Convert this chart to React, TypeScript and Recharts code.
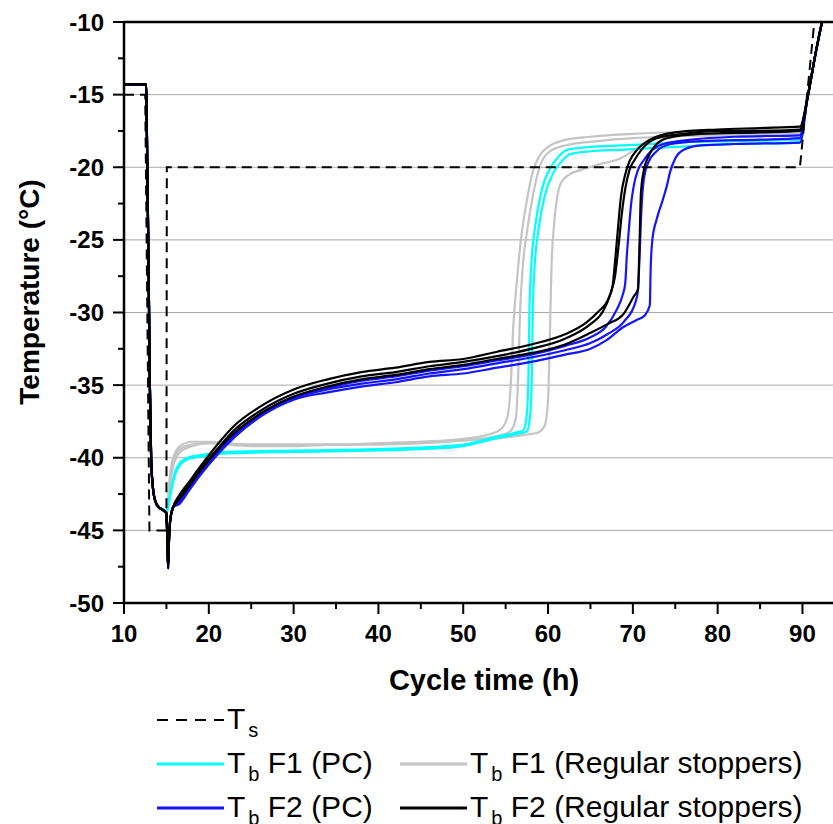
import React from 'react';
import { LineChart, Line, XAxis, YAxis, CartesianGrid, ReferenceLine } from 'recharts';

type Pt = [number, number];

// Shelf temperature set point (h, °C)
const shelfTs: Pt[] = [[10, -15], [12.5, -15], [13.0, -45], [15.0, -45], [15.05, -20], [89.7, -20], [91.4, -10]];

// Common hold + cool-down section of all product probes
const coolDown: Pt[] = [[10, -14.3], [12.6, -14.3], [12.75, -20], [12.9, -27], [13.05, -35], [13.2, -40], [13.4, -42], [13.7, -43], [14.1, -43.4], [14.6, -43.6], [15.0, -43.8]];

// F2 nucleation spike
const f2Spike: Pt[] = [[15.1, -45.5], [15.2, -47.6], [15.3, -45.8], [15.45, -44.3], [15.8, -43.4]];

// Final warm-up (secondary drying)
const warmEnd: Pt[] = [[90.6, -15.2], [91.6, -12], [92.3, -10]];

// F1 regular stoppers (grey)
const f1RegA: Pt[] = [[15.2, -42.8], [15.4, -41.3], [15.8, -40.0], [16.6, -39.2], [18, -38.9], [20, -38.9], [25, -39.1], [30, -39.1], [35, -39.1], [40, -39.0], [45, -38.9], [50, -38.7], [53, -38.4], [54.5, -38.0], [55.2, -37.2], [55.6, -35], [55.9, -31], [56.3, -28], [56.8, -25], [57.5, -22.3], [58.2, -20.3], [58.9, -19.3], [60, -18.6], [61.5, -18.2], [65, -17.9], [70, -17.7], [80, -17.5], [89.7, -17.4]];
const f1RegB: Pt[] = [[15.2, -43.0], [15.4, -41.8], [15.8, -40.4], [16.6, -39.4], [18, -39.1], [20, -39.0], [25, -39.2], [30, -39.2], [35, -39.1], [40, -39.1], [45, -39.0], [50, -38.8], [54, -38.5], [55.5, -38.2], [56.2, -37.3], [56.5, -34], [56.7, -30], [57.0, -27], [57.5, -24.5], [58.2, -22], [59.0, -20.0], [60, -19.0], [62, -18.5], [66, -18.2], [70, -18.0], [80, -17.8], [89.7, -17.7]];
const f1RegC: Pt[] = [[15.2, -43.1], [15.4, -42.0], [15.8, -40.6], [16.6, -39.6], [18, -39.2], [20, -39.0], [25, -39.1], [30, -39.1], [35, -39.1], [40, -39.0], [45, -38.9], [50, -38.8], [55, -38.6], [57.5, -38.4], [58.7, -38.3], [59.6, -37.8], [60.0, -36], [60.2, -32], [60.4, -27], [60.7, -24], [61.5, -21.1], [62.5, -20.5], [63.8, -20.2], [66, -19.8], [68.5, -19.4], [70.5, -18.7], [72.8, -18.0], [76, -17.8], [80, -17.7], [89.7, -17.6]];

// F1 PC (cyan)
const f1PcA: Pt[] = [[15.2, -43.3], [15.5, -42.3], [16, -41.0], [16.5, -40.4], [17.5, -40.0], [19.3, -39.8], [22, -39.6], [30, -39.5], [40, -39.4], [45, -39.3], [50, -39.1], [53.6, -38.6], [56, -38.3], [57.1, -38.1], [57.5, -37], [57.7, -34], [57.8, -30], [58.0, -27], [58.5, -24], [59.2, -21.7], [60.3, -20.0], [61.2, -19.3], [62.2, -18.8], [65, -18.6], [68.5, -18.5], [75, -18.3], [82, -18.2], [89.7, -18.1]];
const f1PcB: Pt[] = [[15.2, -43.4], [15.5, -42.5], [16, -41.2], [16.5, -40.6], [17.5, -40.1], [19.3, -39.9], [22, -39.7], [30, -39.6], [40, -39.5], [45, -39.4], [50, -39.2], [53.6, -38.7], [56, -38.4], [57.5, -38.2], [57.9, -37], [58.1, -34], [58.2, -30], [58.4, -27], [58.9, -24.2], [59.6, -22], [60.7, -20.3], [61.6, -19.6], [62.6, -19.1], [65, -18.9], [68.5, -18.8], [75, -18.6], [82, -18.4], [89.7, -18.3]];

// F2 regular stoppers (black)
const f2RegA: Pt[] = [[16.5, -42.6], [17.5, -41.8], [19, -40.6], [21, -39.1], [23, -37.8], [26, -36.5], [30, -35.3], [34, -34.6], [38, -34.1], [42, -33.8], [46, -33.4], [50, -33.2], [54, -32.7], [58, -32.2], [62, -31.5], [64.5, -30.7], [66, -29.9], [67, -29.2], [67.6, -28.2], [67.9, -26.5], [68.2, -24.5], [68.6, -22], [69.1, -20.5], [69.6, -19.6], [70.5, -18.8], [72, -18.1], [75, -17.6], [80, -17.4], [85, -17.3], [89.7, -17.2]];
const f2RegB: Pt[] = [[16.5, -42.8], [17.5, -42.0], [19, -40.8], [21, -39.4], [23, -38.1], [26, -36.8], [30, -35.6], [34, -34.9], [38, -34.4], [42, -34.1], [46, -33.7], [50, -33.4], [54, -33.0], [58, -32.5], [62, -31.8], [65, -30.8], [66.5, -29.9], [67.3, -28.8], [67.9, -27.5], [68.3, -25.5], [68.7, -23.2], [69.1, -21.5], [69.6, -20.2], [70.2, -19.5], [71, -18.8], [72.8, -18.0], [76, -17.7], [80, -17.5], [85, -17.5], [89.7, -17.4]];
const f2RegC: Pt[] = [[16.5, -42.9], [17.5, -42.1], [19, -40.9], [21, -39.5], [23, -38.3], [26, -37.0], [30, -35.8], [34, -35.1], [38, -34.6], [42, -34.3], [46, -33.9], [50, -33.6], [54, -33.2], [58, -32.8], [62, -32.2], [65, -31.4], [67, -30.8], [68.9, -30.1], [70.1, -28.9], [70.6, -28.4], [70.8, -25], [70.95, -21.8], [71.3, -20.2], [71.8, -19.3], [72.8, -18.4], [74, -18.0], [78, -17.7], [85, -17.6], [89.7, -17.5]];

// F2 PC (blue)
const f2PcA: Pt[] = [[16.5, -43.0], [17.5, -42.2], [19, -41.0], [21, -39.6], [23, -38.4], [26, -37.0], [30, -35.8], [34, -35.2], [38, -34.7], [42, -34.4], [46, -34.0], [50, -33.7], [54, -33.3], [58, -32.9], [62, -32.3], [65, -31.7], [66.8, -31.0], [68.1, -29.8], [68.8, -28.8], [69.1, -28.0], [69.3, -26], [69.5, -24.5], [69.8, -22.5], [70.1, -21.3], [70.6, -20.2], [71.3, -19.5], [72.3, -18.8], [73.6, -18.4], [77, -18.1], [82, -17.9], [89.7, -17.8]];
const f2PcB: Pt[] = [[16.5, -43.1], [17.5, -42.3], [19, -41.1], [21, -39.7], [23, -38.5], [26, -37.1], [30, -35.9], [34, -35.3], [38, -34.9], [42, -34.6], [46, -34.2], [50, -33.9], [54, -33.5], [58, -33.1], [62, -32.6], [65, -32.1], [67, -31.5], [69, -30.6], [70.3, -29.3], [70.6, -28.5], [70.8, -26], [71.0, -23], [71.3, -20.8], [71.8, -19.7], [72.8, -18.9], [74.5, -18.4], [78, -18.2], [85, -18.1], [89.7, -18.0]];
const f2PcC: Pt[] = [[16.5, -43.2], [17.5, -42.4], [19, -41.2], [21, -39.8], [23, -38.6], [26, -37.2], [30, -36.0], [34, -35.5], [38, -35.1], [42, -34.8], [46, -34.4], [50, -34.2], [54, -33.8], [58, -33.4], [62, -32.9], [65, -32.5], [66.9, -31.9], [68.9, -31.0], [70.5, -30.5], [71.4, -30.2], [72.0, -29.5], [72.1, -27], [72.3, -25], [72.8, -23.6], [73.5, -22.3], [74, -21.3], [74.4, -20.3], [75, -19.4], [76, -18.8], [78, -18.5], [82, -18.4], [89.7, -18.3]];

const xTicks = [10, 15, 20, 25, 30, 35, 40, 45, 50, 55, 60, 65, 70, 75, 80, 85, 90];
const yTicks = [-50, -47.5, -45, -42.5, -40, -37.5, -35, -32.5, -30, -27.5, -25, -22.5, -20, -17.5, -15, -12.5, -10];
const gridValues = [-45, -40, -35, -30, -25, -20, -15];

const FONT = '"Liberation Sans", Arial, Helvetica, sans-serif';

const toRows = (pts: Pt[]) => pts.map(([t, v]) => ({ t, v }));
const f1 = (p: Pt[]) => toRows([...coolDown, ...p, ...warmEnd]);
const f2 = (p: Pt[]) => toRows([...coolDown, ...f2Spike, ...p, ...warmEnd]);

const XTick = (props: any) => {
  const { x, y, payload } = props;
  const major = payload.value % 10 === 0;
  return (
    <g>
      <line x1={x} x2={x} y1={y} y2={y + (major ? 11 : 6)} stroke="#000" strokeWidth={2} />
      {major && (
        <text x={x} y={y + 39} textAnchor="middle" fontFamily={FONT} fontWeight="bold" fontSize={24} fill="#000">
          {payload.value}
        </text>
      )}
    </g>
  );
};

const YTick = (props: any) => {
  const { x, y, payload } = props;
  const major = payload.value % 5 === 0;
  return (
    <g>
      <line x1={x - (major ? 11 : 6)} x2={x} y1={y} y2={y} stroke="#000" strokeWidth={2} />
      {major && (
        <text x={x - 20} y={y + 8.5} textAnchor="end" fontFamily={FONT} fontWeight="bold" fontSize={24} fill="#000">
          {payload.value}
        </text>
      )}
    </g>
  );
};

const series = [
  { key: 'f1RegA', data: f1(f1RegA), color: '#c4c4c4' },
  { key: 'f1RegB', data: f1(f1RegB), color: '#c4c4c4' },
  { key: 'f1RegC', data: f1(f1RegC), color: '#c4c4c4' },
  { key: 'f1PcA', data: f1(f1PcA), color: '#00ffff' },
  { key: 'f1PcB', data: f1(f1PcB), color: '#00ffff' },
  { key: 'f2PcA', data: f2(f2PcA), color: '#1414ff' },
  { key: 'f2PcB', data: f2(f2PcB), color: '#1414ff' },
  { key: 'f2PcC', data: f2(f2PcC), color: '#1414ff' },
  { key: 'f2RegA', data: f2(f2RegA), color: '#000000' },
  { key: 'f2RegB', data: f2(f2RegB), color: '#000000' },
  { key: 'f2RegC', data: f2(f2RegC), color: '#000000' },
];

const LegendItem = ({ x, y, color, dashed, sub, rest }: any) => (
  <g>
    <line x1={x} x2={x + 67} y1={y} y2={y} stroke={color} strokeWidth={dashed ? 2 : 3} strokeDasharray={dashed ? '11 8' : undefined} />
    <text x={x + 70} y={y + 9} fontFamily={FONT} fontSize={30} fill="#000">
      T
      <tspan fontSize={20} dx={3} dy={8}>{sub}</tspan>
      <tspan dy={-8}>{rest}</tspan>
    </text>
  </g>
);

export default function App() {
  return (
    <div style={{ position: 'absolute', left: 0, top: 0, width: 833, height: 824, background: '#fff' }}>
      <LineChart width={833} height={824} margin={{ top: 22, right: 0, bottom: 161, left: 0 }}>
        <CartesianGrid vertical={false} horizontalValues={gridValues} stroke="#a8a8a8" strokeWidth={1} />
        <XAxis
          type="number"
          dataKey="t"
          domain={[10, 93.6]}
          ticks={xTicks}
          interval={0}
          allowDataOverflow
          height={60}
          tickSize={0}
          tickMargin={0}
          tickLine={false}
          tick={<XTick />}
          axisLine={{ stroke: '#000', strokeWidth: 2.5 }}
        />
        <YAxis
          type="number"
          dataKey="v"
          domain={[-50, -10]}
          ticks={yTicks}
          interval={0}
          allowDataOverflow
          width={124}
          tickSize={0}
          tickMargin={0}
          tickLine={false}
          tick={<YTick />}
          axisLine={{ stroke: '#000', strokeWidth: 2.5 }}
        />
        <ReferenceLine y={-10} stroke="#000" strokeWidth={2.5} ifOverflow="visible" />
        {series.map((s) => (
          <Line
            key={s.key}
            data={s.data}
            dataKey="v"
            type="monotoneX"
            stroke={s.color}
            strokeWidth={2.2}
            dot={false}
            activeDot={false}
            isAnimationActive={false}
          />
        ))}
        <Line
          data={toRows(shelfTs)}
          dataKey="v"
          type="linear"
          stroke="#000"
          strokeWidth={2}
          strokeDasharray="10 6"
          dot={false}
          activeDot={false}
          isAnimationActive={false}
        />
      </LineChart>
      <svg width={833} height={824} style={{ position: 'absolute', left: 0, top: 0, pointerEvents: 'none' }}>
        <text transform="rotate(-90)" x={-292} y={39} textAnchor="middle" fontFamily={FONT} fontWeight="bold" fontSize={28} fill="#000">
          Temperature (°C)
        </text>
        <text x={484} y={690} textAnchor="middle" fontFamily={FONT} fontWeight="bold" fontSize={29} fill="#000">
          Cycle time (h)
        </text>
        <LegendItem x={157} y={720} color="#000" dashed sub="s" rest="" />
        <LegendItem x={157} y={764} color="#00ffff" sub="b" rest=" F1 (PC)" />
        <LegendItem x={400} y={764} color="#c4c4c4" sub="b" rest=" F1 (Regular stoppers)" />
        <LegendItem x={157} y={808} color="#1414ff" sub="b" rest=" F2 (PC)" />
        <LegendItem x={400} y={808} color="#000" sub="b" rest=" F2 (Regular stoppers)" />
      </svg>
    </div>
  );
}
